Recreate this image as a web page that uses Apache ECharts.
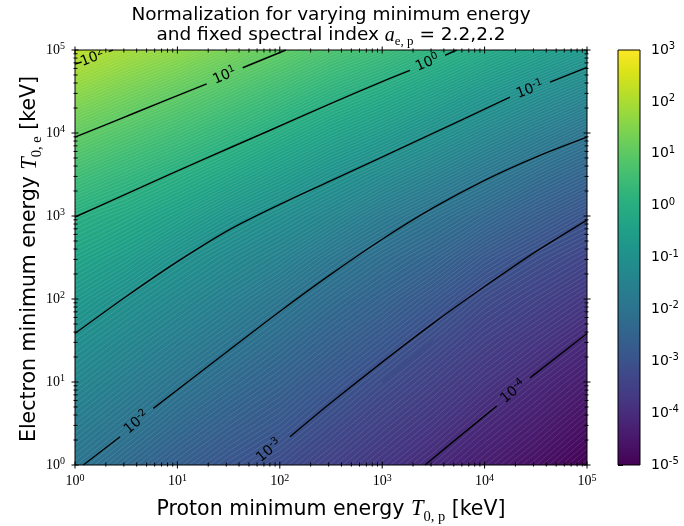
<!DOCTYPE html>
<html><head><meta charset="utf-8">
<script src="https://cdn.jsdelivr.net/npm/echarts@6/dist/echarts.min.js"></script>
<style>html,body{margin:0;padding:0;background:#fff}#c{width:684px;height:526px}</style>
</head><body><div id="c"></div>
<script>
// ---- data (exponents, log10) ----
// grid of proton / electron minimum energies (log10 keV)
const logTp = [0, 0.5, 1, 1.5, 2, 2.5, 3, 3.5, 4, 4.5, 5];
const logTe = [0, 0.5, 1, 1.5, 2, 2.5, 3, 3.5, 4, 4.5, 5];
// log10 of normalization; one array per proton energy, values along electron energy (bottom -> top)
const logNormTp0   = [-1.95, -1.65, -1.35, -1.05, -0.71, -0.35, 0.02, 0.54, 1.06, 1.63, 2.19];
const logNormTp05  = [-2.29, -1.95, -1.64, -1.33, -1.01, -0.61, -0.20, 0.27, 0.79, 1.34, 1.91];
const logNormTp1   = [-2.61, -2.28, -1.95, -1.62, -1.29, -0.95, -0.48, 0.00, 0.53, 1.06, 1.65];
const logNormTp15  = [-2.91, -2.58, -2.25, -1.92, -1.58, -1.23, -0.82, -0.29, 0.24, 0.77, 1.34];
const logNormTp2   = [-3.15, -2.84, -2.53, -2.22, -1.89, -1.50, -1.10, -0.61, -0.08, 0.47, 1.02];
const logNormTp25  = [-3.45, -3.15, -2.85, -2.53, -2.21, -1.85, -1.39, -0.93, -0.40, 0.14, 0.71];
const logNormTp3   = [-3.75, -3.46, -3.16, -2.84, -2.50, -2.16, -1.73, -1.22, -0.68, -0.13, 0.45];
const logNormTp35  = [-4.05, -3.75, -3.46, -3.16, -2.83, -2.43, -2.03, -1.52, -0.99, -0.43, 0.14];
const logNormTp4   = [-4.35, -4.07, -3.77, -3.47, -3.17, -2.80, -2.33, -1.84, -1.31, -0.76, -0.17];
const logNormTp45  = [-4.64, -4.35, -4.07, -3.75, -3.42, -3.09, -2.65, -2.16, -1.62, -1.06, -0.47];
const logNormTp5   = [-4.96, -4.66, -4.36, -4.05, -3.70, -3.33, -2.95, -2.45, -1.94, -1.35, -0.76];
const logNorm = [logNormTp0, logNormTp05, logNormTp1, logNormTp15, logNormTp2, logNormTp25,
                 logNormTp3, logNormTp35, logNormTp4, logNormTp45, logNormTp5];

// contour levels (log10) and contour-line points [log10 Tp, log10 Te], split at the inline label
const contourLevels = [2, 1, 0, -1, -2, -3, -4];
const contourBefore = [
  [[0, 4.83], [0.065, 4.855]],
  [[0, 3.95], [0.6, 4.25], [1.286, 4.593]],
  [[0, 2.988], [0.6, 3.32], [1.25, 3.68], [1.9, 4.03], [2.49, 4.35], [3.0, 4.62], [3.271, 4.755]],
  [[0, 1.585], [0.5, 2.03], [1.0, 2.45], [1.5, 2.83], [2.0, 3.14], [2.49, 3.42], [3.4, 3.94], [4.248, 4.432]],
  [[0.081, 0], [0.44, 0.34]],
  [],
  [[3.418, 0], [3.8, 0.39], [4.118, 0.71]]
];
const contourAfter = [
  [[0.33, 4.98], [0.37, 5.0]],
  [[1.638, 4.786], [2.06, 5.0]],
  [[3.613, 4.934], [3.727, 5.0]],
  [[4.639, 4.613], [5, 4.79]],
  [[0.765, 0.682], [1.5, 1.38], [2.0, 1.85], [2.49, 2.29], [3.0, 2.72], [3.5, 3.10], [4.0, 3.43], [4.5, 3.71], [5, 3.95]],
  [[2.10, 0.34], [2.49, 0.74], [3.0, 1.24], [3.5, 1.71], [4.0, 2.15], [4.5, 2.57], [5, 2.95]],
  [[4.443, 1.05], [5, 1.585]]
];
const contourLabelAt = [[0.17, 4.90], [1.462, 4.689], [3.442, 4.844], [4.443, 4.522], [0.602, 0.511], [1.895, 0.172], [4.28, 0.882]];

// axis decades (tick labels)
const axisDecades = [0, 1, 2, 3, 4, 5];
const colorbarDecades = [-5, -4, -3, -2, -1, 0, 1, 2, 3];

// ---- colormap ----
const VIR = ['#440154','#481467','#482576','#453781','#404688','#39568C','#33638D','#2D718E','#287D8E','#238A8D',
             '#1F968B','#20A386','#29AF7F','#3CBB75','#55C667','#73D055','#95D840','#B8DE29','#DCE318','#FDE725'];
const VIR_RGB = VIR.map(h => [parseInt(h.slice(1,3),16), parseInt(h.slice(3,5),16), parseInt(h.slice(5,7),16)]);
const cmin = colorbarDecades[0], cmax = colorbarDecades[colorbarDecades.length - 1];
function viridis(t) {
  t = Math.max(0, Math.min(1, t));
  const n = VIR_RGB.length - 1, f = t * n, i = Math.min(Math.floor(f), n - 1), u = f - i;
  const a = VIR_RGB[i], b = VIR_RGB[i + 1];
  return 'rgb(' + [0,1,2].map(k => Math.round(a[k] + (b[k] - a[k]) * u)).join(',') + ')';
}
function colorOf(v) { return viridis((v - cmin) / (cmax - cmin)); }
const isoStep = (cmax - cmin) / 200;

const P10 = v => Math.pow(10, v);
const cells = [];
for (let i = 0; i < logTp.length - 1; i++)
  for (let j = 0; j < logTe.length - 1; j++)
    cells.push([P10((logTp[i] + logTp[i + 1]) / 2), P10((logTe[j] + logTe[j + 1]) / 2), i, j]);

function cellTriangles(api) {
  const i = api.value(2), j = api.value(3);
  const pt = (a, b) => ({ p: api.coord([P10(logTp[a]), P10(logTe[b])]), v: logNorm[a][b] });
  const c00 = pt(i, j), c10 = pt(i + 1, j), c11 = pt(i + 1, j + 1), c01 = pt(i, j + 1);
  return [[c00, c10, c11], [c00, c11, c01]];
}
function gradientFor(tri) {
  const [A, B, C] = tri;
  const x1 = B.p[0] - A.p[0], y1 = B.p[1] - A.p[1], x2 = C.p[0] - A.p[0], y2 = C.p[1] - A.p[1];
  const d1 = B.v - A.v, d2 = C.v - A.v;
  const det = x1 * y2 - x2 * y1;
  const vmin = Math.min(A.v, B.v, C.v), vmax = Math.max(A.v, B.v, C.v);
  if (Math.abs(det) < 1e-9 || vmax - vmin < 1e-9) return colorOf((vmin + vmax) / 2);
  const gx = (d1 * y2 - d2 * y1) / det, gy = (x1 * d2 - x2 * d1) / det;
  const g2 = gx * gx + gy * gy;
  const sx = A.p[0] + gx * (vmin - A.v) / g2, sy = A.p[1] + gy * (vmin - A.v) / g2;
  const ex = A.p[0] + gx * (vmax - A.v) / g2, ey = A.p[1] + gy * (vmax - A.v) / g2;
  const stops = [];
  for (let k = 0; k <= 4; k++) { const t = k / 4; stops.push({ offset: t, color: colorOf(vmin + t * (vmax - vmin)) }); }
  return { type: 'linear', x: sx, y: sy, x2: ex, y2: ey, colorStops: stops, global: true };
}

const fillSeries = {
  type: 'custom', xAxisIndex: 0, yAxisIndex: 0, z: 1, clip: true, silent: true,
  data: cells, encode: { x: 0, y: 1 },
  renderItem: function (params, api) {
    const children = cellTriangles(api).map(tri => ({
      type: 'polygon', shape: { points: tri.map(c => c.p) },
      style: { fill: gradientFor(tri), stroke: gradientFor(tri), lineWidth: 1.2 }
    }));
    return { type: 'group', children };
  }
};
const isoSeries = {
  type: 'custom', xAxisIndex: 0, yAxisIndex: 0, z: 2, clip: true, silent: true,
  data: cells, encode: { x: 0, y: 1 },
  renderItem: function (params, api) {
    const children = [];
    cellTriangles(api).forEach(tri => {
      const vs = tri.map(c => c.v);
      const k0 = Math.ceil((Math.min(...vs) - cmin) / isoStep), k1 = Math.floor((Math.max(...vs) - cmin) / isoStep);
      for (let k = k0; k <= k1; k++) {
        const L = cmin + k * isoStep, pts = [];
        for (let e = 0; e < 3; e++) {
          const P = tri[e], Q = tri[(e + 1) % 3];
          if ((P.v < L) !== (Q.v < L)) {
            const t = (L - P.v) / (Q.v - P.v);
            pts.push([P.p[0] + t * (Q.p[0] - P.p[0]), P.p[1] + t * (Q.p[1] - P.p[1])]);
          }
        }
        if (pts.length === 2) children.push({ type: 'line', shape: { x1: pts[0][0], y1: pts[0][1], x2: pts[1][0], y2: pts[1][1] },
          style: { stroke: 'rgba(255,255,255,0.2)', lineWidth: 0.6 } });
      }
    });
    return { type: 'group', children };
  }
};

const lineSeries = [];
contourLevels.forEach((lev, k) => {
  [contourBefore[k], contourAfter[k]].forEach(seg => {
    if (seg.length < 2) return;
    lineSeries.push({
      type: 'line', xAxisIndex: 0, yAxisIndex: 0, z: 3, silent: true, smooth: 0.3,
      showSymbol: false, symbol: 'none', clip: true,
      lineStyle: { color: '#000', width: 1.4 },
      data: seg.map(p => [P10(p[0]), P10(p[1])])
    });
  });
});

const labelSeries = {
  type: 'custom', xAxisIndex: 0, yAxisIndex: 0, z: 4, clip: true, silent: true,
  data: contourLabelAt.map((p, k) => [P10(p[0]), P10(p[1]), k]), encode: { x: 0, y: 1 },
  renderItem: function (params, api) {
    const k = api.value(2);
    const c = api.coord([api.value(0), api.value(1)]);
    const a = contourBefore[k], b = contourAfter[k];
    let p, q;
    if (a.length && b.length) { p = a[a.length - 1]; q = b[0]; } else { p = b[0]; q = b[1]; }
    const P = api.coord([P10(p[0]), P10(p[1])]), Q = api.coord([P10(q[0]), P10(q[1])]);
    const ang = Math.atan2(-(Q[1] - P[1]), Q[0] - P[0]);
    return {
      type: 'text', x: c[0], y: c[1], rotation: ang,
      style: {
        text: '{b|10}{s|' + contourLevels[k] + '}', align: 'center', verticalAlign: 'middle',
        rich: {
          b: { fontFamily: 'DejaVu Sans', fontSize: 14, lineHeight: 17, fill: '#000' },
          s: { fontFamily: 'DejaVu Sans', fontSize: 10, lineHeight: 10, verticalAlign: 'top', fill: '#000' }
        }
      }
    };
  }
};

const tickSeries = {
  type: 'custom', xAxisIndex: 0, yAxisIndex: 0, z: 6, clip: false, silent: true,
  data: [[1, 1]], encode: { x: 0, y: 1 },
  renderItem: function (params, api) {
    const lo = P10(axisDecades[0]), hi = P10(axisDecades[axisDecades.length - 1]);
    const x0 = api.coord([lo, lo])[0], x1 = api.coord([hi, lo])[0];
    const y0 = api.coord([lo, hi])[1], y1 = api.coord([lo, lo])[1];
    const ch = [];
    const st = { stroke: '#000', lineWidth: 1 };
    const addX = (x, out, inn) => {
      ch.push({ type: 'line', shape: { x1: x, y1: y1 + out, x2: x, y2: y1 - inn }, style: st });
      ch.push({ type: 'line', shape: { x1: x, y1: y0 - out, x2: x, y2: y0 + inn }, style: st });
    };
    const addY = (y, out, inn) => {
      ch.push({ type: 'line', shape: { x1: x0 - out, y1: y, x2: x0 + inn, y2: y }, style: st });
      ch.push({ type: 'line', shape: { x1: x1 + out, y1: y, x2: x1 - inn, y2: y }, style: st });
    };
    axisDecades.forEach((d, n) => {
      addX(api.coord([P10(d), lo])[0], 3.5, 3.5);
      addY(api.coord([lo, P10(d)])[1], 3.5, 3.5);
      if (n < axisDecades.length - 1) for (let m = 2; m <= 9; m++) {
        addX(api.coord([m * P10(d), lo])[0], 1.5, 2.5);
        addY(api.coord([lo, m * P10(d)])[1], 1.5, 2.5);
      }
    });
    ch.push({ type: 'rect', shape: { x: x0, y: y0, width: x1 - x0, height: y1 - y0 }, style: { fill: 'none', stroke: '#000', lineWidth: 1 } });
    return { type: 'group', children: ch };
  }
};

const colorbarSeries = {
  type: 'custom', xAxisIndex: 1, yAxisIndex: 1, z: 2, silent: true, clip: false,
  data: [[0.5, 0]], encode: { x: 0, y: 1 },
  renderItem: function (params, api) {
    const a = api.coord([0, cmax]), b = api.coord([1, cmin]);
    const stops = VIR.map((c, k) => ({ offset: 1 - k / (VIR.length - 1), color: c })).reverse();
    return { type: 'group', children: [
      { type: 'rect', shape: { x: a[0], y: a[1], width: b[0] - a[0], height: b[1] - a[1] },
        style: { fill: { type: 'linear', x: 0, y: 0, x2: 0, y2: 1, colorStops: stops }, stroke: '#000', lineWidth: 1 } }
    ] };
  }
};

const serifRich = {
  b: { fontFamily: 'Liberation Serif', fontSize: 14, lineHeight: 17, color: '#000' },
  s: { fontFamily: 'Liberation Serif', fontSize: 10, lineHeight: 10, verticalAlign: 'top', color: '#000' }
};
const sansRich = {
  b: { fontFamily: 'DejaVu Sans', fontSize: 14, lineHeight: 17, color: '#000' },
  s: { fontFamily: 'DejaVu Sans', fontSize: 10, lineHeight: 10, verticalAlign: 'top', color: '#000' }
};
const expLabel = v => '{b|10}{s|' + Math.round(Math.log10(v)) + '}';
const labelRich = {
  t: { fontFamily: 'DejaVu Sans', fontSize: 20.5, lineHeight: 30, fill: '#000' },
  m: { fontFamily: 'Liberation Serif', fontStyle: 'italic', fontSize: 22.5, lineHeight: 30, fill: '#000' },
  s: { fontFamily: 'Liberation Serif', fontSize: 14.5, lineHeight: 15, verticalAlign: 'bottom', fill: '#000' }
};

const option = {
  animation: false,
  backgroundColor: '#fff',
  grid: [
    { left: 75, top: 50, width: 512, height: 415 },
    { left: 618, top: 50, width: 22, height: 415 }
  ],
  xAxis: [
    { type: 'log', logBase: 10, min: P10(axisDecades[0]), max: P10(axisDecades[axisDecades.length - 1]), gridIndex: 0,
      splitNumber: 5, axisLine: { show: false }, axisTick: { show: false }, splitLine: { show: false }, minorTick: { show: false },
      axisLabel: { margin: 8, formatter: expLabel, rich: serifRich } },
    { type: 'value', gridIndex: 1, min: 0, max: 1, show: false }
  ],
  yAxis: [
    { type: 'log', logBase: 10, min: P10(axisDecades[0]), max: P10(axisDecades[axisDecades.length - 1]), gridIndex: 0,
      splitNumber: 5, axisLine: { show: false }, axisTick: { show: false }, splitLine: { show: false }, minorTick: { show: false },
      axisLabel: { margin: 10, formatter: expLabel, rich: serifRich } },
    { type: 'value', gridIndex: 1, min: cmin, max: cmax, interval: 1, position: 'right',
      axisLine: { show: false }, splitLine: { show: false },
      axisTick: { show: true, inside: false, length: 5, lineStyle: { color: '#000', width: 1 } },
      axisLabel: { margin: 11, formatter: v => '{b|10}{s|' + v + '}', rich: sansRich } }
  ],
  graphic: [
    { type: 'text', x: 331, y: 15.5, z: 10, style: { text: 'Normalization for varying minimum energy',
      fontFamily: 'DejaVu Sans', fontSize: 18.5, fill: '#000', align: 'center', verticalAlign: 'middle' } },
    { type: 'text', x: 331, y: 35.5, z: 10, style: {
      text: '{t|and fixed spectral index }{m|a}{s|e, p}{t| = 2.2,2.2}', align: 'center', verticalAlign: 'middle',
      rich: {
        t: { fontFamily: 'DejaVu Sans', fontSize: 18.5, lineHeight: 26, fill: '#000' },
        m: { fontFamily: 'Liberation Serif', fontStyle: 'italic', fontSize: 20, lineHeight: 26, fill: '#000' },
        s: { fontFamily: 'Liberation Serif', fontSize: 13, lineHeight: 13, verticalAlign: 'bottom', fill: '#000' }
      } } },
    { type: 'text', x: 331, y: 509.5, z: 10, style: {
      text: '{t|Proton minimum energy }{m|T}{s|0, p}{t| [keV]}', align: 'center', verticalAlign: 'middle', rich: labelRich } },
    { type: 'text', x: 30, y: 259, rotation: Math.PI / 2, z: 10, style: {
      text: '{t|Electron minimum energy }{m|T}{s|0, e}{t| [keV]}', align: 'center', verticalAlign: 'middle', rich: labelRich } }
  ],
  series: [fillSeries, isoSeries].concat(lineSeries, [labelSeries, tickSeries, colorbarSeries])
};

const chart = echarts.init(document.getElementById('c'), null, { renderer: 'canvas' });
chart.setOption(option);
</script>
</body></html>
